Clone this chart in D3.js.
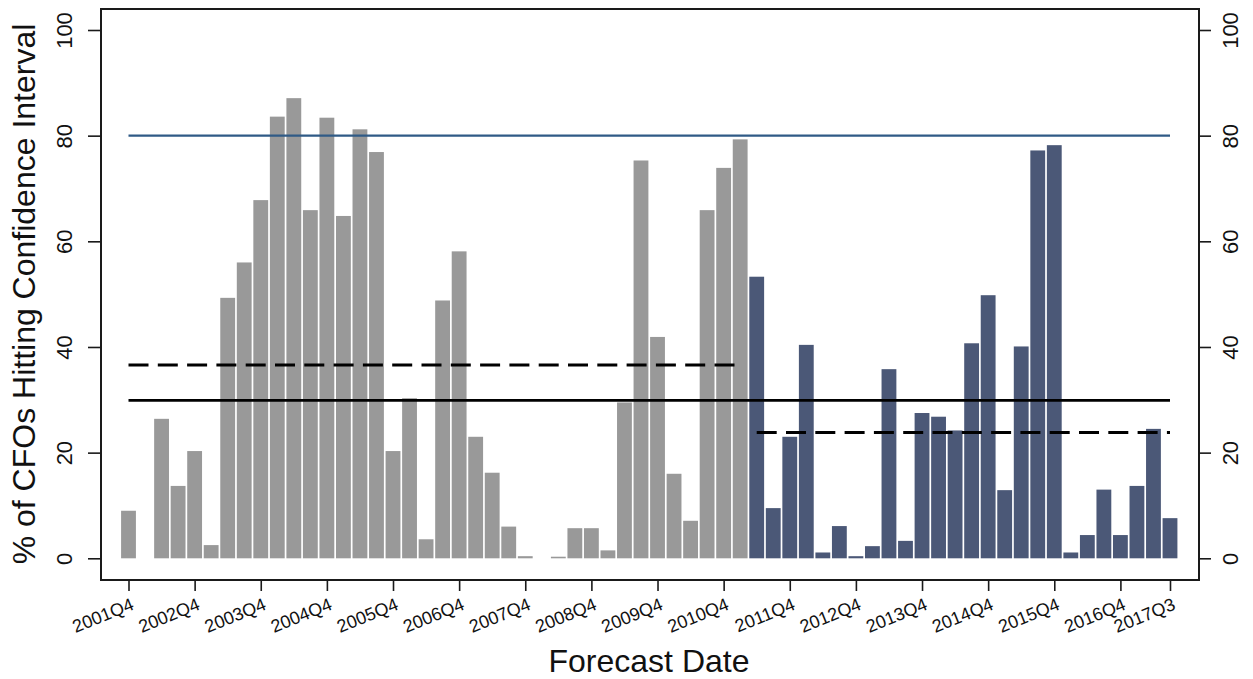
<!DOCTYPE html>
<html>
<head>
<meta charset="utf-8">
<script src="https://cdn.jsdelivr.net/npm/d3@7"></script>
<style>
  html, body { margin: 0; padding: 0; background: #fff; }
  svg text { font-family: "Liberation Sans", Arial, Helvetica, sans-serif; fill: #111; }
</style>
</head>
<body>
<svg id="chart" width="1253" height="679"></svg>
<script>
// Forecast quarters, 2001Q4 through 2017Q3
const quarters = [
  "2001Q4",
  "2002Q1","2002Q2","2002Q3","2002Q4",
  "2003Q1","2003Q2","2003Q3","2003Q4",
  "2004Q1","2004Q2","2004Q3","2004Q4",
  "2005Q1","2005Q2","2005Q3","2005Q4",
  "2006Q1","2006Q2","2006Q3","2006Q4",
  "2007Q1","2007Q2","2007Q3","2007Q4",
  "2008Q1","2008Q2","2008Q3","2008Q4",
  "2009Q1","2009Q2","2009Q3","2009Q4",
  "2010Q1","2010Q2","2010Q3","2010Q4",
  "2011Q1","2011Q2","2011Q3","2011Q4",
  "2012Q1","2012Q2","2012Q3","2012Q4",
  "2013Q1","2013Q2","2013Q3","2013Q4",
  "2014Q1","2014Q2","2014Q3","2014Q4",
  "2015Q1","2015Q2","2015Q3","2015Q4",
  "2016Q1","2016Q2","2016Q3","2016Q4",
  "2017Q1","2017Q2","2017Q3"
];

// % of CFOs whose realized return fell inside their confidence interval
const hitPct = [
  9.0,
  null, 26.4, 13.7, 20.3,
  2.5, 49.3, 56.0, 67.8,
  83.6, 87.1, 65.9, 83.4,
  64.8, 81.2, 76.9, 20.3,
  30.3, 3.6, 48.8, 58.1,
  23.0, 16.2, 6.0, 0.4,
  null, 0.3, 5.7, 5.7,
  1.5, 29.5, 75.3, 41.9,
  16.0, 7.1, 65.9, 73.9,
  79.3, 53.3, 9.5, 23.0,
  40.4, 1.1, 6.1, 0.4,
  2.3, 35.8, 3.3, 27.5,
  26.8, 24.2, 40.7, 49.8,
  12.9, 40.1, 77.2, 78.2,
  1.1, 4.4, 13.0, 4.4,
  13.7, 24.5, 7.6
];

// First quarter of the second sample period
const secondPeriodStart = "2011Q2";

// Horizontal reference levels
const targetLevel = 80;
const fullSampleMean = 29.9;
const firstPeriodMean = 36.6;
const secondPeriodMean = 23.8;

const xTickLabels = ["2001Q4","2002Q4","2003Q4","2004Q4","2005Q4","2006Q4","2007Q4",
  "2008Q4","2009Q4","2010Q4","2011Q4","2012Q4","2013Q4","2014Q4","2015Q4","2016Q4","2017Q3"];
const yTicks = [0, 20, 40, 60, 80, 100];

const svg = d3.select("#chart");
const frame = { left: 101, right: 1199, top: 9, bottom: 580 };

const x = d3.scalePoint().domain(quarters).range([128.5, 1170]);
const y = d3.scaleLinear().domain([0, 100]).range([558.3, 30]);
const barW = x.step() - 1.7;

const splitIdx = quarters.indexOf(secondPeriodStart);
const rows = quarters.map((q, i) => ({ q, v: hitPct[i], late: i >= splitIdx }));

// Bars
svg.append("g")
  .selectAll("rect")
  .data(rows.filter(d => d.v !== null))
  .join("rect")
  .attr("x", d => x(d.q) - barW / 2)
  .attr("width", barW)
  .attr("y", d => y(d.v))
  .attr("height", d => y(0) - y(d.v))
  .attr("fill", d => d.late ? "#4b5877" : "#999999");

// Reference lines
const lines = svg.append("g").attr("fill", "none");
lines.append("line")
  .attr("x1", x(quarters[0])).attr("x2", x(quarters[quarters.length - 1]))
  .attr("y1", y(targetLevel)).attr("y2", y(targetLevel))
  .attr("stroke", "#2f5a86").attr("stroke-width", 2.2);
lines.append("line")
  .attr("x1", x(quarters[0])).attr("x2", x(quarters[quarters.length - 1]))
  .attr("y1", y(fullSampleMean)).attr("y2", y(fullSampleMean))
  .attr("stroke", "#000").attr("stroke-width", 2.6);
lines.append("line")
  .attr("x1", x(quarters[0])).attr("x2", x(quarters[splitIdx - 1]))
  .attr("y1", y(firstPeriodMean)).attr("y2", y(firstPeriodMean))
  .attr("stroke", "#000").attr("stroke-width", 3).attr("stroke-dasharray", "20,9.3");
lines.append("line")
  .attr("x1", x(quarters[splitIdx])).attr("x2", x(quarters[quarters.length - 1]))
  .attr("y1", y(secondPeriodMean)).attr("y2", y(secondPeriodMean))
  .attr("stroke", "#000").attr("stroke-width", 3).attr("stroke-dasharray", "20,9.3");

// Plot frame
svg.append("rect")
  .attr("x", frame.left).attr("y", frame.top)
  .attr("width", frame.right - frame.left).attr("height", frame.bottom - frame.top)
  .attr("fill", "none").attr("stroke", "#1a1a1a").attr("stroke-width", 2);

// Left axis
const gL = svg.append("g").attr("transform", `translate(${frame.left},0)`)
  .call(d3.axisLeft(y).tickValues(yTicks).tickSize(13).tickFormat(d3.format("d")));
gL.select(".domain").remove();
gL.selectAll(".tick line").attr("stroke", "#1a1a1a").attr("stroke-width", 1.6);
gL.selectAll(".tick text")
  .attr("transform", "rotate(-90)")
  .attr("x", 0).attr("y", -29).attr("dy", 0)
  .attr("text-anchor", "middle")
  .style("font-size", "22px");

// Right axis
const gR = svg.append("g").attr("transform", `translate(${frame.right},0)`)
  .call(d3.axisRight(y).tickValues(yTicks).tickSize(12).tickFormat(d3.format("d")));
gR.select(".domain").remove();
gR.selectAll(".tick line").attr("stroke", "#1a1a1a").attr("stroke-width", 1.6);
gR.selectAll(".tick text")
  .attr("transform", "rotate(-90)")
  .attr("x", 0).attr("y", 39).attr("dy", 0)
  .attr("text-anchor", "middle")
  .style("font-size", "22px");

// Bottom axis
const gB = svg.append("g").attr("transform", `translate(0,${frame.bottom})`)
  .call(d3.axisBottom(x).tickValues(xTickLabels).tickSize(11));
gB.select(".domain").remove();
gB.selectAll(".tick line").attr("stroke", "#1a1a1a").attr("stroke-width", 1.6);
gB.selectAll(".tick text")
  .attr("x", 0).attr("y", 0).attr("dy", 0)
  .attr("text-anchor", "end")
  .attr("transform", "translate(6,29) rotate(-22)")
  .style("font-size", "18px");

// Axis titles
svg.append("text")
  .attr("x", 649).attr("y", 672)
  .attr("text-anchor", "middle")
  .style("font-size", "32px")
  .text("Forecast Date");

svg.append("text")
  .attr("transform", "translate(35,294) rotate(-90)")
  .attr("text-anchor", "middle")
  .style("font-size", "32px")
  .text("% of CFOs Hitting Confidence Interval");
</script>
</body>
</html>
